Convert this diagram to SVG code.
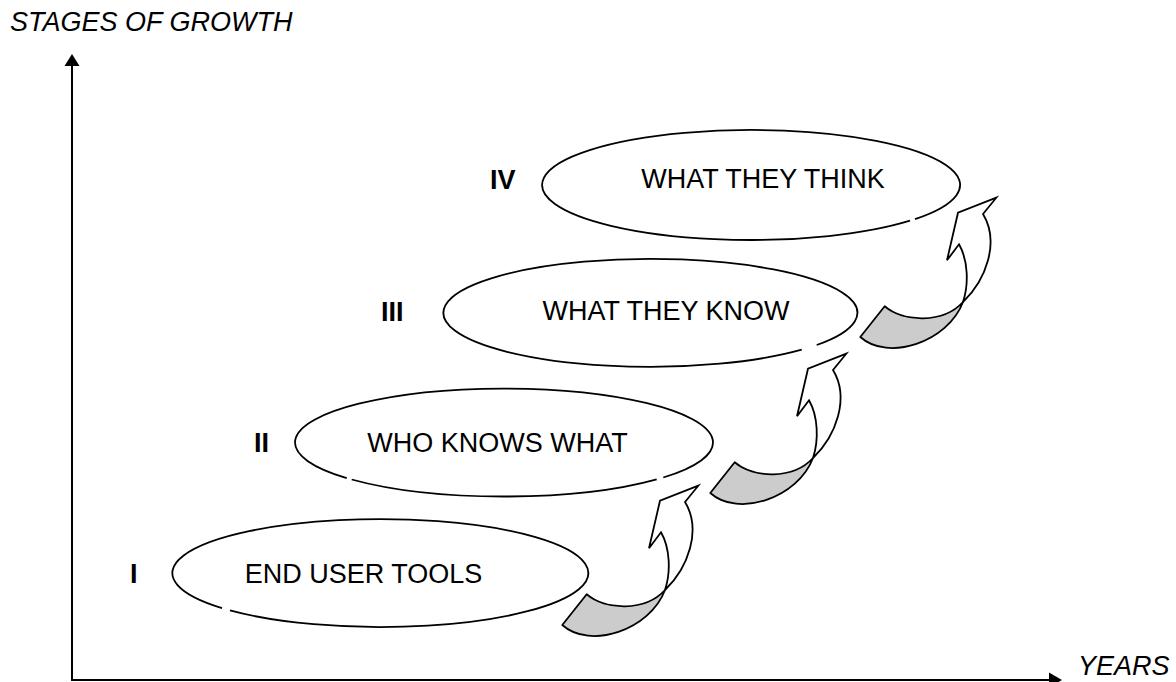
<svg xmlns="http://www.w3.org/2000/svg" width="1176" height="682" viewBox="0 0 1176 682">
<style>
text{font-family:"Liberation Sans",Arial,sans-serif;font-size:27px;fill:#000}
.ax{font-style:italic}
.num{font-weight:bold}
.ell{fill:none;stroke:#000;stroke-width:1.8}
.axis{stroke:#000;stroke-width:2;fill:none}
.gray{fill:#cccccc;stroke:#000;stroke-width:1.8;stroke-linejoin:round}
.white{fill:#fff;stroke:#000;stroke-width:1.8;stroke-linejoin:miter}
</style>
<defs>
<g id="curl">
<path class="gray" d="M562.3,625 L586.7,594.3 C605,610 645,612 665,590 C650,630 590,650 562.3,625 Z"/>
<path class="white" d="M665,590 C688,568 702,530 685,502 L698.3,485.7 L660,500.7 L649,548.3 L661,532.3 C670,548 671,572 665,590 Z"/>
</g>
</defs>
<rect width="1176" height="682" fill="#fff"/>
<g id="axes">
<line class="axis" x1="72" y1="681" x2="72" y2="64"/>
<polygon points="72,54 64.5,66 79.5,66" fill="#000"/>
<line class="axis" x1="71" y1="680" x2="1050" y2="680"/>
<polygon points="1062,680 1049,672.5 1049,687.5" fill="#000"/>
<text class="ax" x="10" y="31">STAGES OF GROWTH</text>
<text class="ax" x="1078" y="675">YEARS</text>
</g>
<g id="node-I">
<path class="ell" d="M230,610.4 A208,54 0 1 0 222,608.1"/>
<text x="363.5" y="583" text-anchor="middle">END USER TOOLS</text>
<text class="num" x="130" y="583">I</text>
</g>
<g id="node-II">
<path class="ell" d="M351.7,479.5 A209,54 0 0 0 656.7,479.4"/>
<path class="ell" d="M663.3,477.5 A209,54 0 1 0 346.7,478.1"/>
<text x="497.5" y="451.5" text-anchor="middle">WHO KNOWS WHAT</text>
<text class="num" x="254" y="452">II</text>
</g>
<g id="node-III">
<path class="ell" d="M816.7,345 A207,54 0 1 0 801.7,349.7"/>
<text x="666" y="320" text-anchor="middle">WHAT THEY KNOW</text>
<text class="num" x="381" y="321">III</text>
</g>
<g id="node-IV">
<path class="ell" d="M915,219.1 A209,55 0 1 0 910,220.7"/>
<text x="763" y="188" text-anchor="middle">WHAT THEY THINK</text>
<text class="num" x="490" y="189">IV</text>
</g>
<g id="connectors">
<use href="#curl"/>
<use href="#curl" transform="translate(148,-132)"/>
<use href="#curl" transform="translate(298,-288)"/>
</g>
</svg>
